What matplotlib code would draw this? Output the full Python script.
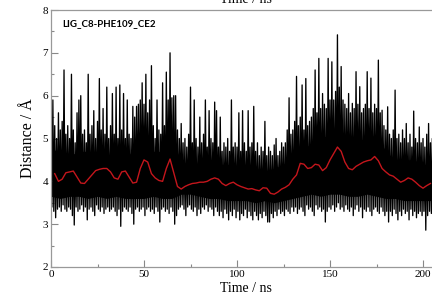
import numpy as np
import matplotlib
matplotlib.use('Agg')
import matplotlib.pyplot as plt
from matplotlib.ticker import MultipleLocator

upper = [6.2, 5.9, 5.3, 5.0, 5.6, 5.2, 5.4, 6.6, 5.1, 5.3,
         5.0, 6.5, 5.2, 4.9, 5.6, 5.9, 6.0, 5.1, 5.2, 4.9,
         6.5, 5.1, 5.3, 5.65, 5.0, 5.4, 6.4, 5.2, 5.7, 5.1,
         6.2, 5.0, 5.3, 6.05, 5.1, 6.2, 5.0, 6.25, 5.2, 6.05,
         5.0, 5.9, 5.1, 5.0, 5.75, 5.5, 5.75, 5.8, 5.9, 6.3,
         5.8, 6.5, 5.6, 5.9, 6.7, 5.3, 5.0, 5.9, 5.2, 5.1,
         6.3, 5.3, 6.55, 5.9, 7.0, 5.95, 6.0, 6.0, 5.2, 5.0,
         5.35, 4.9, 5.0, 4.8, 5.1, 6.2, 4.9, 5.9, 5.0, 4.8,
         5.5, 4.9, 5.1, 5.9, 4.8, 5.65, 5.0, 4.9, 5.85, 5.65,
         4.8, 5.5, 4.7, 4.9, 4.8, 5.0, 4.7, 5.9, 4.8, 4.9,
         4.8, 5.6, 4.7, 5.65, 4.9, 4.7, 5.65, 4.8, 4.9, 5.75,
         4.7, 4.9, 4.6, 4.8, 4.7, 5.4, 4.6, 4.8, 4.7, 4.6,
         4.85, 5.0, 4.6, 4.7, 4.9, 4.8, 4.9, 5.2, 5.95, 5.1,
         5.2, 5.4, 6.45, 5.3, 5.5, 6.25, 5.2, 6.4, 5.3, 5.4,
         5.5, 5.7, 6.6, 5.6, 6.87, 5.7, 6.05, 5.8, 5.7, 6.87,
         5.9, 6.79, 5.9, 6.1, 7.42, 6.2, 6.68, 5.9, 5.8, 5.7,
         6.05, 5.6, 5.82, 5.7, 6.56, 5.8, 6.21, 5.6, 5.7, 5.8,
         6.56, 5.7, 6.41, 5.6, 5.8, 5.7, 6.83, 5.6, 5.66, 5.3,
         5.2, 5.74, 5.1, 5.0, 5.2, 6.13, 5.0, 5.1, 4.9, 5.2,
         5.0, 5.35, 4.9, 5.1, 4.8, 5.64, 5.0, 4.9, 5.27, 4.9,
         5.0, 4.8, 5.1, 5.35, 4.9, 5.0]
lower = [3.4, 3.3, 3.15, 3.35, 3.4, 3.3, 3.45, 3.35, 3.3, 3.4,
         3.35, 3.2, 2.98, 3.4, 3.3, 3.35, 3.45, 3.3, 3.4, 3.1,
         3.35, 3.4, 3.3, 3.2, 3.45, 3.35, 3.3, 3.4, 3.25, 3.35,
         3.4, 3.3, 3.35, 3.4, 3.3, 3.2, 3.35, 2.95, 3.3, 3.4,
         3.35, 3.3, 3.4, 3.25, 3.0, 3.35, 3.4, 3.3, 3.35, 3.4,
         3.2, 3.35, 3.4, 3.3, 3.35, 3.25, 3.4, 3.3, 3.05, 3.35,
         3.4, 3.3, 3.35, 3.25, 3.4, 3.3, 3.0, 3.2, 3.35, 3.4,
         3.45, 3.35, 3.2, 3.4, 3.45, 3.35, 3.3, 3.4, 3.2, 3.35,
         3.25, 3.4, 3.35, 3.45, 3.3, 3.4, 3.35, 3.2, 3.4, 3.3,
         3.2, 3.3, 3.15, 3.35, 3.25, 3.1, 3.3, 3.2, 3.35, 3.15,
         3.3, 3.1, 3.25, 3.2, 3.35, 3.15, 3.3, 3.2, 3.1, 3.3,
         3.2, 3.1, 3.25, 3.15, 3.3, 3.2, 3.05, 3.05, 3.25, 3.15,
         3.3, 3.2, 3.35, 3.25, 3.3, 3.2, 3.35, 3.3, 3.25, 3.4,
         3.3, 3.4, 3.25, 3.35, 3.4, 3.3, 3.2, 3.45, 3.35, 3.4,
         3.3, 3.2, 3.45, 3.35, 3.4, 3.3, 3.35, 3.05, 3.3, 3.4,
         3.35, 3.45, 3.3, 3.4, 3.5, 3.35, 3.4, 3.3, 3.45, 3.35,
         3.3, 3.4, 3.2, 3.35, 3.45, 3.3, 3.4, 3.15, 3.35, 3.3,
         3.4, 3.3, 3.2, 3.35, 3.4, 3.3, 3.25, 3.4, 3.3, 3.2,
         3.3, 3.05, 3.3, 3.2, 3.35, 3.25, 3.1, 3.3, 3.2, 3.35,
         3.25, 3.3, 3.1, 3.35, 3.2, 3.3, 3.15, 3.25, 3.3, 3.2,
         3.3, 2.86, 3.2, 3.3, 3.25, 3.3]

# solid black core of the trace, every 5 ns
core_time = list(range(0, 206, 5))
core_top = [4.75, 4.7, 4.6, 4.7, 4.7, 4.6, 4.6, 4.55, 4.5, 4.8,
            4.9, 4.7, 4.7, 5.0, 4.45, 4.4, 4.4, 4.45, 4.4, 4.4,
            4.3, 4.3, 4.3, 4.25, 4.3, 4.4, 4.6, 4.8, 4.85, 5.0,
            5.1, 5.2, 4.95, 4.95, 5.0, 5.1, 4.7, 4.5, 4.5, 4.5,
            4.4, 4.4]
core_bot = [3.65, 3.6, 3.65, 3.65, 3.6, 3.65, 3.6, 3.65, 3.6, 3.6,
            3.6, 3.65, 3.6, 3.6, 3.7, 3.7, 3.65, 3.6, 3.6, 3.55,
            3.55, 3.55, 3.5, 3.55, 3.5, 3.55, 3.6, 3.65, 3.7, 3.65,
            3.7, 3.7, 3.65, 3.65, 3.7, 3.65, 3.6, 3.6, 3.55, 3.55,
            3.55, 3.55]

# running average (red)
avg_time = list(range(2, 205, 2))
avg_dist = [4.18, 4.00, 4.05, 4.20, 4.22, 4.24, 4.10, 3.96, 3.95, 4.05,
            4.15, 4.25, 4.28, 4.30, 4.30, 4.22, 4.08, 4.05, 4.22, 4.24,
            4.10, 3.96, 3.98, 4.30, 4.50, 4.45, 4.18, 4.08, 4.02, 4.00,
            4.30, 4.52, 4.20, 3.88, 3.82, 3.88, 3.92, 3.95, 3.96, 3.98,
            3.98, 4.00, 4.05, 4.08, 4.05, 3.95, 3.90, 3.95, 3.98, 3.92,
            3.88, 3.85, 3.82, 3.83, 3.80, 3.78, 3.85, 3.84, 3.72, 3.70,
            3.75, 3.82, 3.86, 3.92, 4.05, 4.15, 4.42, 4.40, 4.30, 4.32,
            4.40, 4.38, 4.25, 4.32, 4.50, 4.65, 4.80, 4.70, 4.45, 4.30,
            4.27, 4.35, 4.40, 4.45, 4.48, 4.50, 4.58, 4.48, 4.30, 4.22,
            4.15, 4.12, 4.05, 3.98, 4.02, 4.08, 4.05, 3.98, 3.90, 3.84,
            3.90, 3.95]

t_up = np.arange(len(upper))
t_lo = t_up + 0.5
trace_t = np.column_stack([t_up, t_lo]).ravel()
trace_d = np.column_stack([upper, lower]).ravel()

fig = plt.figure(figsize=(4.32, 3.03), dpi=100)
ax = fig.add_axes([51/432, 36/303, 390.6/432, 257/303])

ax.fill_between(core_time, core_bot, core_top, color='black', lw=0)
ax.plot(trace_t, trace_d, color='black', lw=0.95)
ax.plot(avg_time, avg_dist, color='#c4161c', lw=1.0)

ax.set_xlim(0, 210)
ax.set_ylim(2, 8)
ax.xaxis.set_major_locator(MultipleLocator(50))
ax.xaxis.set_minor_locator(MultipleLocator(25))
ax.yaxis.set_major_locator(MultipleLocator(1))
ax.yaxis.set_minor_locator(MultipleLocator(0.5))
ax.tick_params(which='both', direction='in', color='#888888', width=0.8,
               labelsize=8, pad=2)
ax.tick_params(which='major', length=5)
ax.tick_params(which='minor', length=2.5)
for lab in ax.get_xticklabels() + ax.get_yticklabels():
    lab.set_family('Liberation Serif')
for s in ax.spines.values():
    s.set_color('#999999')
    s.set_linewidth(0.9)

ax.set_xlabel('Time / ns', family='Liberation Serif', fontsize=10, labelpad=2)
ax.set_ylabel('Distance / Å', family='Liberation Serif', fontsize=11.5, labelpad=5)

ax.text(11/390.6, 0.948, 'LIG_C8-PHE109_CE2', transform=ax.transAxes,
        family='Lato', weight='bold', fontsize=7, va='center', ha='left')

# top axis title, cut off by the image edge
fig.text(246/432, 1 - 2.7/303, 'Time / ns', family='Liberation Serif',
         fontsize=10, ha='center', va='baseline')

fig.savefig('out.png', dpi=100)
